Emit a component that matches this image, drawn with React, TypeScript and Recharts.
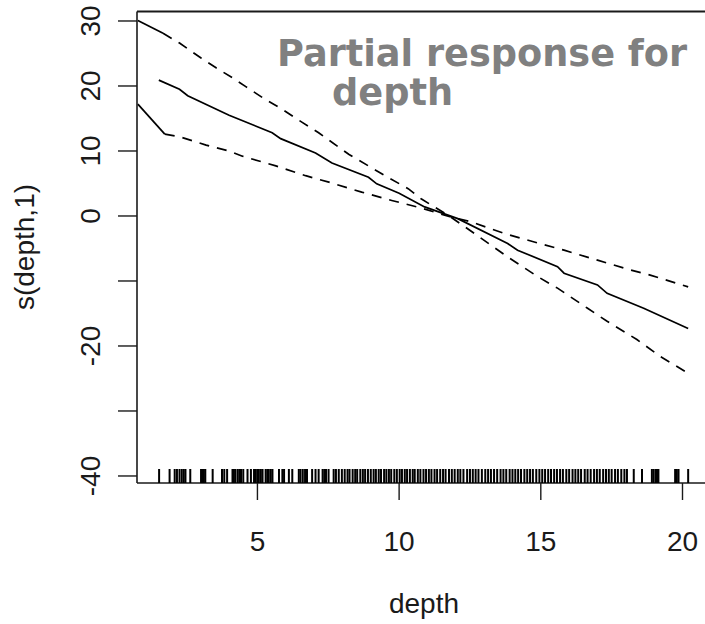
import React from 'react';
import { ComposedChart, Line, Scatter, XAxis, YAxis, ReferenceLine } from 'recharts';

const fitDepth = [1.52, 2.25, 2.54, 4.0, 5.52, 5.82, 7.05, 7.63, 8.92, 9.21, 10.0, 10.9, 12.07, 13.83, 14.18, 15.59, 15.82, 17.0, 17.34, 18.63, 20.2];
const fitValue = [20.9, 19.5, 18.5, 15.5, 12.8, 11.9, 9.7, 8.15, 5.96, 4.94, 3.5, 1.4, -0.41, -4.24, -5.26, -7.8, -8.8, -10.6, -11.9, -14.2, -17.3];

const upperLeadDepth = [0.78, 1.67];
const upperLeadValue = [30.06, 28.1];
const upperDepth = [1.67, 2.25, 3.01, 3.54, 4.12, 4.59, 5.29, 5.88, 6.58, 7.16, 8.22, 8.92, 9.5, 10.32, 10.79, 11.7, 12.66, 13.83, 14.88, 15.59, 16.65, 17.34, 18.39, 19.21, 20.2];
const upperValue = [28.1, 26.6, 24.3, 22.8, 21.25, 19.9, 17.9, 16.4, 14.4, 12.8, 9.5, 7.7, 6.2, 4.2, 2.6, 0.2, -2.7, -6.3, -9.3, -11.1, -14.2, -16.2, -19.0, -21.6, -24.2];

const lowerLeadDepth = [0.78, 1.73];
const lowerLeadValue = [17.2, 12.6];
const lowerDepth = [1.73, 2.25, 3.19, 4.0, 4.47, 5.65, 6.7, 7.52, 8.68, 9.74, 10.79, 11.7, 12.54, 13.72, 14.77, 15.82, 17.0, 18.16, 18.86, 20.2];
const lowerValue = [12.6, 12.2, 10.9, 10.0, 9.2, 7.7, 6.2, 5.2, 3.67, 2.39, 1.22, 0.0, -0.9, -2.7, -4.0, -5.26, -6.8, -8.3, -9.1, -10.9];

const rugDepths = [1.53, 1.9, 2.08, 2.16, 2.25, 2.33, 2.4, 2.46, 2.63, 3.01, 3.06, 3.11, 3.16, 3.42, 3.75, 3.83, 3.93, 4.12, 4.17, 4.22, 4.3, 4.36, 4.42, 4.5, 4.65, 4.77, 4.88, 4.94, 5.0, 5.05, 5.12, 5.18, 5.29, 5.35, 5.4, 5.47, 5.53, 5.76, 5.88, 5.94, 6.11, 6.23, 6.46, 6.52, 6.6, 6.68, 6.75, 6.93, 7.05, 7.16, 7.3, 7.36, 7.42, 7.51, 7.69, 7.77, 7.87, 7.98, 8.08, 8.18, 8.25, 8.36, 8.45, 8.52, 8.63, 8.72, 8.8, 8.9, 9.0, 9.1, 9.18, 9.28, 9.36, 9.47, 9.55, 9.64, 9.72, 9.83, 9.92, 10.02, 10.1, 10.2, 10.28, 10.38, 10.48, 10.55, 10.66, 10.75, 10.86, 10.95, 11.05, 11.14, 11.25, 11.34, 11.45, 11.55, 11.64, 11.76, 11.86, 11.96, 12.07, 12.16, 12.27, 12.4, 12.5, 12.6, 12.7, 12.8, 12.92, 13.04, 13.14, 13.24, 13.35, 13.46, 13.58, 13.68, 13.78, 13.9, 14.0, 14.1, 14.2, 14.3, 14.42, 14.52, 14.62, 14.72, 14.84, 14.95, 15.05, 15.15, 15.26, 15.36, 15.47, 15.57, 15.68, 15.78, 15.9, 16.0, 16.12, 16.22, 16.32, 16.42, 16.55, 16.65, 16.76, 16.88, 16.98, 17.08, 17.2, 17.3, 17.4, 17.5, 17.62, 17.72, 17.84, 17.95, 18.04, 18.28, 18.57, 18.92, 18.98, 19.05, 19.1, 19.15, 19.74, 19.8, 19.86, 20.2];

const xTicks = [5, 10, 15, 20];
const xTickLabels = ['5', '10', '15', '20'];
const yTicks = [-40, -30, -20, -10, 0, 10, 20, 30];
const yTickLabels = ['-40', '', '-20', '', '0', '10', '20', '30'];

const titleLines = ['Partial response for', 'depth'];
const xLabel = 'depth';
const yLabel = 's(depth,1)';

const X_DOMAIN: [number, number] = [0.75, 20.9];
const Y_DOMAIN: [number, number] = [-41.08, 31.46];

const zip = (xs: number[], ys: number[]) => xs.map((d, i) => ({ depth: d, s: ys[i] }));

const fitData = zip(fitDepth, fitValue);
const upperLead = zip(upperLeadDepth, upperLeadValue);
const upperData = zip(upperDepth, upperValue);
const lowerLead = zip(lowerLeadDepth, lowerLeadValue);
const lowerData = zip(lowerDepth, lowerValue);
const rugData = rugDepths.map((d) => ({ depth: d, s: Y_DOMAIN[0] }));

const FONT = '"Liberation Sans", Arial, sans-serif';
const INK = '#1a1a1a';

const XTick = (props: any) => {
  const { x, payload } = props;
  const i = xTicks.indexOf(payload.value);
  return (
    <text x={x} y={551} textAnchor="middle" fontFamily={FONT} fontSize={28} fill={INK}>
      {i >= 0 ? xTickLabels[i] : ''}
    </text>
  );
};

const YTick = (props: any) => {
  const { y, payload } = props;
  const i = yTicks.indexOf(payload.value);
  const bx = 100;
  return (
    <text
      x={bx}
      y={y}
      transform={`rotate(-90, ${bx}, ${y})`}
      textAnchor="middle"
      fontFamily={FONT}
      fontSize={28}
      fill={INK}
    >
      {i >= 0 ? yTickLabels[i] : ''}
    </text>
  );
};

const RugMark = (props: any) => {
  const { cx, cy } = props;
  return <line x1={cx} x2={cx} y1={cy} y2={cy - 14} stroke="#000" strokeWidth={2} />;
};

export default function App() {
  return (
    <div style={{ position: 'absolute', left: 0, top: 0, width: 705, height: 624, overflow: 'hidden', background: '#fff' }}>
      <ComposedChart
        width={712}
        height={624}
        margin={{ top: 11.5, right: 4, bottom: 81, left: 77 }}
      >
        <XAxis
          type="number"
          dataKey="depth"
          domain={X_DOMAIN}
          allowDataOverflow
          ticks={xTicks}
          interval={0}
          height={60}
          tickSize={17}
          tick={<XTick />}
          axisLine={{ stroke: INK, strokeWidth: 1.6 }}
          tickLine={{ stroke: INK, strokeWidth: 1.4 }}
        />
        <YAxis
          type="number"
          dataKey="s"
          domain={Y_DOMAIN}
          allowDataOverflow
          ticks={yTicks}
          interval={0}
          width={60}
          tickSize={19}
          tick={<YTick />}
          axisLine={{ stroke: INK, strokeWidth: 1.6 }}
          tickLine={{ stroke: INK, strokeWidth: 1.4 }}
        />
        <ReferenceLine y={Y_DOMAIN[1]} stroke={INK} strokeWidth={1.8} />
        <Scatter data={rugData} dataKey="s" shape={<RugMark />} isAnimationActive={false} />
        <Line data={upperLead} dataKey="s" type="linear" stroke="#000" strokeWidth={1.7} dot={false} isAnimationActive={false} />
        <Line data={upperData} dataKey="s" type="linear" stroke="#000" strokeWidth={1.7} strokeDasharray="10 8" dot={false} isAnimationActive={false} />
        <Line data={lowerLead} dataKey="s" type="linear" stroke="#000" strokeWidth={1.7} dot={false} isAnimationActive={false} />
        <Line data={lowerData} dataKey="s" type="linear" stroke="#000" strokeWidth={1.7} strokeDasharray="10 8" dot={false} isAnimationActive={false} />
        <Line data={fitData} dataKey="s" type="linear" stroke="#000" strokeWidth={1.7} dot={false} isAnimationActive={false} />
      </ComposedChart>
      <svg width={705} height={624} style={{ position: 'absolute', left: 0, top: 0, pointerEvents: 'none' }}>
        <text x={277} y={66} fontFamily='"DejaVu Sans", Verdana, sans-serif' fontWeight="bold" fontSize={36.7} fill="#808080">
          {titleLines[0]}
        </text>
        <text x={332} y={105} fontFamily='"DejaVu Sans", Verdana, sans-serif' fontWeight="bold" fontSize={36.7} fill="#808080">
          {titleLines[1]}
        </text>
        <text x={424} y={613} textAnchor="middle" fontFamily={FONT} fontSize={28} fill={INK}>
          {xLabel}
        </text>
        <text x={34} y={247} transform="rotate(-90, 34, 247)" textAnchor="middle" fontFamily={FONT} fontSize={28} fill={INK}>
          {yLabel}
        </text>
      </svg>
    </div>
  );
}
